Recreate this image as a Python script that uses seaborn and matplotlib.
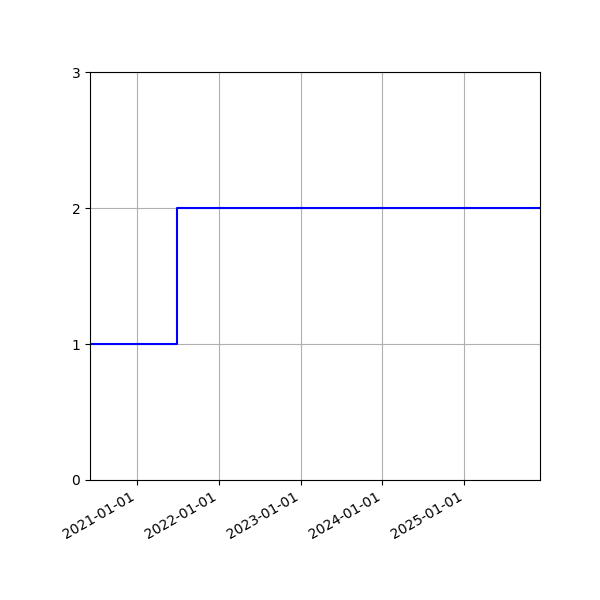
import matplotlib
matplotlib.use("Agg")
import matplotlib.pyplot as plt
import matplotlib.dates as mdates
import pandas as pd
import seaborn as sns

# step values
dates = pd.to_datetime(["2020-06-04", "2021-06-29", "2025-12-05"])
values = [1, 2, 2]

df = pd.DataFrame({"date": dates, "value": values})

plt.rcParams['font.family'] = ['DejaVu Sans']
fig, ax = plt.subplots(figsize=(6, 6), dpi=100)

sns.lineplot(data=df, x="date", y="value", ax=ax, color="blue",
             drawstyle="steps-post", linewidth=1.5)

ax.set_xlim(dates[0], dates[-1])
ax.set_ylim(0, 3)
ax.set_yticks([0, 1, 2, 3])
ax.xaxis.set_major_locator(mdates.YearLocator())
ax.xaxis.set_major_formatter(mdates.DateFormatter("%Y-%m-%d"))
ax.set_xlabel("")
ax.set_ylabel("")
ax.grid(True)

fig.autofmt_xdate()
fig.subplots_adjust(left=0.15, right=0.9, top=0.88, bottom=0.2)
fig.savefig("out.png")
